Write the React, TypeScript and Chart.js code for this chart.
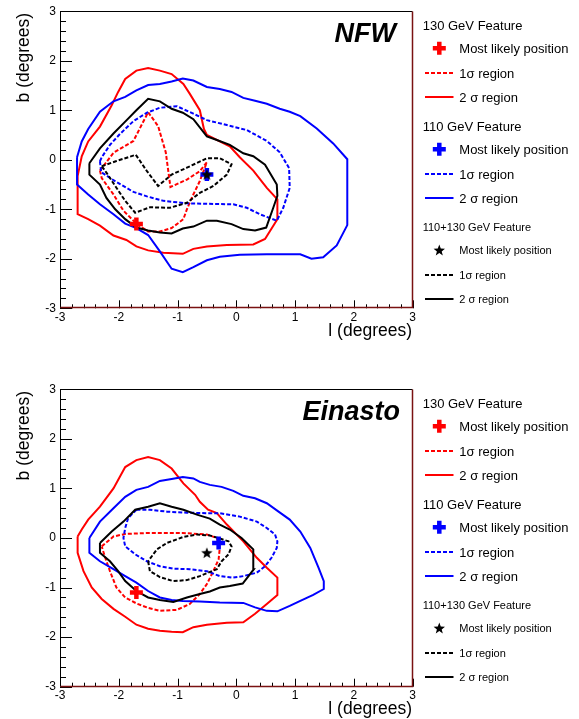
import React, { useEffect, useRef } from "react";
import { Chart, registerables } from "chart.js";
Chart.register(...registerables);

type Pt = [number, number];

// ---------- axis / legend text ----------
const axisMin = -3;
const axisMax = 3;
const majorStep = 1;
const minorStep = 0.2;
const xTitle = "l (degrees)";
const yTitle = "b (degrees)";
const legendHeaders = ["130 GeV Feature", "110 GeV Feature", "110+130 GeV Feature"];
const legendRows = ["Most likely position", "1σ region", "2 σ region"];
const featureColors = ["#ff0000", "#0000ff", "#000000"];

// ---------- NFW panel ----------
const nfwRedBest: Pt = [-1.7, -1.3];
const nfwBlueBest: Pt = [-0.5, -0.3];
const nfwBothBest: Pt = [-0.5, -0.3];

const nfwRed1: Pt[] = [
  [-2.32, -0.22], [-2.09, 0.14], [-1.75, 0.38], [-1.5, 0.96], [-1.33, 0.68], [-1.2, 0.15],
  [-1.12, -0.55], [-0.84, -0.4], [-0.62, -0.23], [-0.5, -0.05], [-0.62, -0.43], [-0.75, -0.75],
  [-0.84, -1.0], [-0.9, -1.2], [-1.1, -1.38], [-1.3, -1.45], [-1.5, -1.45], [-1.69, -1.3],
  [-1.92, -1.03], [-2.09, -0.7], [-2.29, -0.37],
];
const nfwRed2: Pt[] = [
  [-2.7, -0.33], [-2.7, -1.1], [-2.52, -1.2], [-2.32, -1.33], [-2.09, -1.53], [-1.87, -1.62],
  [-1.7, -1.75], [-1.5, -1.83], [-1.24, -1.88], [-0.91, -1.9], [-0.73, -1.8], [-0.5, -1.75],
  [-0.16, -1.72], [0.29, -1.71], [0.49, -1.6], [0.7, -1.2], [0.7, -0.8], [0.52, -0.57],
  [0.29, -0.22], [0.06, 0.05], [-0.11, 0.27], [-0.5, 0.5], [-0.55, 0.62], [-0.62, 1.0],
  [-0.79, 1.33], [-0.9, 1.53], [-1.1, 1.73], [-1.3, 1.8], [-1.5, 1.85], [-1.7, 1.8],
  [-1.89, 1.63], [-2.01, 1.37], [-2.12, 1.1], [-2.32, 0.67], [-2.52, 0.37], [-2.63, 0.07],
];
const nfwBlue1: Pt[] = [
  [-2.32, -0.03], [-2.3, -0.25], [-2.04, -0.45], [-1.75, -0.65], [-1.52, -0.74], [-1.24, -0.83],
  [-0.84, -0.88], [-0.5, -0.89], [-0.05, -0.9], [0.18, -0.97], [0.4, -1.1], [0.69, -1.23],
  [0.8, -0.97], [0.91, -0.57], [0.9, -0.17], [0.74, 0.15], [0.52, 0.38], [0.18, 0.6],
  [-0.16, 0.7], [-0.5, 0.8], [-0.73, 0.93], [-1.01, 1.08], [-1.3, 1.05], [-1.52, 0.95],
  [-1.75, 0.78], [-1.98, 0.52], [-2.15, 0.3], [-2.29, 0.05],
];
const nfwBlue2: Pt[] = [
  [-2.71, 0.05], [-2.71, -0.5], [-2.52, -0.7], [-2.32, -0.9], [-2.09, -1.1], [-1.89, -1.29],
  [-1.7, -1.38], [-1.5, -1.52], [-1.3, -1.85], [-1.1, -2.2], [-0.91, -2.27], [-0.73, -2.17],
  [-0.5, -2.03], [-0.28, -1.96], [0.06, -1.92], [0.52, -1.91], [1.09, -1.91], [1.28, -2.0],
  [1.48, -1.97], [1.71, -1.73], [1.89, -1.32], [1.89, 0.01], [1.65, 0.33], [1.37, 0.63],
  [1.09, 0.88], [0.91, 0.97], [0.74, 1.03], [0.52, 1.13], [0.32, 1.19], [0.12, 1.25],
  [-0.08, 1.37], [-0.28, 1.43], [-0.5, 1.47], [-0.73, 1.6], [-0.91, 1.64], [-1.1, 1.58],
  [-1.3, 1.53], [-1.5, 1.51], [-1.7, 1.4], [-1.89, 1.27], [-2.09, 1.18], [-2.32, 0.97],
  [-2.52, 0.62], [-2.63, 0.37],
];
const nfwBlack1: Pt[] = [
  [-2.29, -0.13], [-2.05, -0.03], [-1.71, 0.1], [-1.52, -0.23], [-1.33, -0.53], [-1.1, -0.3],
  [-0.84, -0.16], [-0.5, 0.03], [-0.28, 0.03], [-0.08, -0.09], [-0.16, -0.3], [-0.39, -0.53],
  [-0.62, -0.67], [-0.84, -0.87], [-1.13, -0.97], [-1.47, -0.96], [-1.72, -1.07], [-1.89, -0.83],
  [-2.06, -0.53], [-2.21, -0.26],
];
const nfwBlack2: Pt[] = [
  [-2.5, -0.07], [-2.5, -0.3], [-2.32, -0.5], [-2.21, -0.77], [-2.06, -1.0], [-1.89, -1.2],
  [-1.7, -1.37], [-1.5, -1.43], [-1.3, -1.47], [-1.1, -1.49], [-0.91, -1.39], [-0.73, -1.35],
  [-0.5, -1.23], [-0.33, -1.23], [-0.08, -1.3], [0.12, -1.4], [0.32, -1.43], [0.51, -1.37],
  [0.63, -0.97], [0.7, -0.73], [0.69, -0.5], [0.49, -0.1], [0.29, 0.07], [0.12, 0.13],
  [-0.11, 0.3], [-0.33, 0.4], [-0.5, 0.47], [-0.73, 0.82], [-0.91, 0.95], [-1.1, 1.03],
  [-1.3, 1.18], [-1.5, 1.23], [-1.7, 1.0], [-1.89, 0.77], [-2.09, 0.53], [-2.32, 0.23],
];

// ---------- Einasto panel ----------
const einRedBest: Pt = [-1.7, -1.1];
const einBlueBest: Pt = [-0.3, -0.1];
const einBothBest: Pt = [-0.5, -0.3];

const einRed1: Pt[] = [
  [-2.29, -0.17], [-2.09, 0.03], [-1.89, 0.08], [-1.5, 0.1], [-0.91, 0.1], [-0.5, 0.07],
  [-0.33, 0.0], [-0.28, -0.2], [-0.3, -0.43], [-0.39, -0.67], [-0.5, -0.93], [-0.62, -1.13],
  [-0.79, -1.33], [-1.01, -1.45], [-1.3, -1.47], [-1.5, -1.41], [-1.7, -1.32], [-1.89, -1.2],
  [-2.04, -1.0], [-2.15, -0.67], [-2.23, -0.4],
];
const einRed2: Pt[] = [
  [-2.7, 0.03], [-2.7, -0.3], [-2.6, -0.67], [-2.46, -1.0], [-2.29, -1.23], [-2.09, -1.43],
  [-1.89, -1.59], [-1.7, -1.75], [-1.5, -1.83], [-1.3, -1.87], [-1.1, -1.89], [-0.91, -1.9],
  [-0.73, -1.8], [-0.5, -1.75], [-0.16, -1.71], [0.12, -1.7], [0.32, -1.53], [0.52, -1.33],
  [0.7, -1.15], [0.7, -0.8], [0.52, -0.6], [0.35, -0.4], [0.12, -0.07], [-0.16, 0.27],
  [-0.33, 0.5], [-0.48, 0.57], [-0.62, 0.73], [-0.7, 0.87], [-0.9, 1.1], [-1.1, 1.4],
  [-1.3, 1.57], [-1.5, 1.63], [-1.7, 1.57], [-1.89, 1.43], [-2.09, 1.0], [-2.32, 0.63],
  [-2.52, 0.37], [-2.63, 0.17],
];
const einBlue1: Pt[] = [
  [-1.7, 0.57], [-1.47, 0.57], [-1.18, 0.53], [-0.84, 0.51], [-0.5, 0.5], [-0.28, 0.5],
  [0.06, 0.43], [0.35, 0.33], [0.52, 0.2], [0.66, 0.07], [0.7, -0.07], [0.69, -0.2],
  [0.6, -0.4], [0.49, -0.57], [0.35, -0.7], [0.12, -0.77], [-0.08, -0.8], [-0.28, -0.77],
  [-0.5, -0.67], [-0.79, -0.63], [-1.07, -0.62], [-1.3, -0.57], [-1.52, -0.47], [-1.72, -0.33],
  [-1.89, -0.17], [-1.92, 0.0], [-1.89, 0.2], [-1.84, 0.4],
];
const einBlue2: Pt[] = [
  [-2.5, 0.0], [-2.5, -0.3], [-2.32, -0.47], [-2.09, -0.63], [-1.89, -0.77], [-1.7, -0.9],
  [-1.5, -1.07], [-1.3, -1.2], [-1.1, -1.25], [-0.91, -1.27], [-0.62, -1.28], [-0.28, -1.3],
  [0.12, -1.31], [0.32, -1.4], [0.52, -1.47], [0.7, -1.48], [0.91, -1.37], [1.09, -1.27],
  [1.31, -1.15], [1.49, -1.03], [1.49, -0.87], [1.4, -0.6], [1.26, -0.2], [1.09, 0.13],
  [0.91, 0.37], [0.72, 0.53], [0.52, 0.7], [0.32, 0.8], [0.12, 0.85], [-0.05, 0.95],
  [-0.25, 1.03], [-0.45, 1.07], [-0.62, 1.13], [-0.73, 1.2], [-0.91, 1.23], [-1.1, 1.19],
  [-1.3, 1.15], [-1.5, 1.03], [-1.7, 0.97], [-1.89, 0.83], [-2.09, 0.6], [-2.32, 0.33],
];
const einBlack1: Pt[] = [
  [-1.5, -0.47], [-1.47, -0.67], [-1.3, -0.79], [-1.07, -0.87], [-0.84, -0.85], [-0.62, -0.77],
  [-0.48, -0.7], [-0.33, -0.63], [-0.25, -0.47], [-0.13, -0.33], [-0.08, -0.17], [-0.13, -0.07],
  [-0.28, -0.01], [-0.45, 0.05], [-0.67, 0.07], [-0.9, 0.02], [-1.18, -0.1], [-1.35, -0.23],
];
const einBlack2: Pt[] = [
  [-2.32, -0.1], [-2.32, -0.3], [-2.15, -0.47], [-2.01, -0.67], [-1.89, -0.87], [-1.7, -1.07],
  [-1.5, -1.2], [-1.3, -1.25], [-1.07, -1.29], [-0.84, -1.2], [-0.62, -1.13], [-0.45, -1.08],
  [-0.28, -1.0], [-0.11, -0.97], [0.11, -0.92], [0.3, -0.63], [0.29, -0.23], [0.09, 0.0],
  [-0.11, 0.17], [-0.28, 0.27], [-0.45, 0.39], [-0.67, 0.47], [-0.9, 0.57], [-1.1, 0.63],
  [-1.3, 0.7], [-1.5, 0.63], [-1.72, 0.57], [-1.92, 0.33], [-2.12, 0.13],
];

// ---------- helpers ----------
const FONT = "'Liberation Sans', Arial, Helvetica, sans-serif";
const DASH = [4, 2];
const LINE_W = 2;

function drawStarPath(ctx: CanvasRenderingContext2D, cx: number, cy: number, R: number) {
  const r = R * 0.42;
  ctx.beginPath();
  for (let i = 0; i < 10; i++) {
    const a = -Math.PI / 2 + (i * Math.PI) / 5;
    const rad = i % 2 === 0 ? R : r;
    const x = cx + rad * Math.cos(a);
    const y = cy + rad * Math.sin(a);
    if (i === 0) ctx.moveTo(x, y);
    else ctx.lineTo(x, y);
  }
  ctx.closePath();
}

function makeStarImage(): HTMLCanvasElement {
  const c = document.createElement("canvas");
  c.width = 14;
  c.height = 14;
  const ctx = c.getContext("2d")!;
  drawStarPath(ctx, 7, 7.4, 6);
  ctx.fillStyle = "#000";
  ctx.fill();
  return c;
}

function drawCross(ctx: CanvasRenderingContext2D, x: number, y: number, color: string) {
  ctx.save();
  ctx.strokeStyle = color;
  ctx.lineWidth = 4.5;
  ctx.beginPath();
  ctx.moveTo(x - 6.5, y);
  ctx.lineTo(x + 6.5, y);
  ctx.moveTo(x, y - 6.5);
  ctx.lineTo(x, y + 6.5);
  ctx.stroke();
  ctx.restore();
}

function closed(pts: Pt[]) {
  const d = pts.map(([x, y]) => ({ x, y }));
  d.push({ x: pts[0][0], y: pts[0][1] });
  return d;
}

type PanelDef = {
  label: string;
  labelRight: number;
  top: number;
  padTop: number;
  best: Pt[]; // red, blue, combined
  one: Pt[][]; // red, blue, black 1 sigma
  two: Pt[][]; // red, blue, black 2 sigma
};

const panels: PanelDef[] = [
  {
    label: "NFW",
    labelRight: 396,
    top: 0,
    padTop: 8.3,
    best: [nfwRedBest, nfwBlueBest, nfwBothBest],
    one: [nfwRed1, nfwBlue1, nfwBlack1],
    two: [nfwRed2, nfwBlue2, nfwBlack2],
  },
  {
    label: "Einasto",
    labelRight: 400,
    top: 378,
    padTop: 8.7,
    best: [einRedBest, einBlueBest, einBothBest],
    one: [einRed1, einBlue1, einBlack1],
    two: [einRed2, einBlue2, einBlack2],
  },
];

const CANVAS_W = 579;
const CANVAS_H = 341;

function Panel({ def }: { def: PanelDef }) {
  const ref = useRef<HTMLCanvasElement>(null);
  useEffect(() => {
    if (!ref.current) return;
    const star = makeStarImage();
    const datasets: any[] = [];
    // markers (drawn on top: low order)
    datasets.push({
      data: [{ x: def.best[2][0], y: def.best[2][1] }],
      showLine: false,
      pointStyle: star,
      pointRadius: 7,
      order: 0,
    });
    [1, 0].forEach((i) => {
      datasets.push({
        data: [{ x: def.best[i][0], y: def.best[i][1] }],
        showLine: false,
        pointStyle: "cross",
        pointRadius: 6.5,
        pointBorderWidth: 4.5,
        pointBorderColor: featureColors[i],
        borderColor: featureColors[i],
        backgroundColor: featureColors[i],
        order: 0,
      });
    });
    [2, 1, 0].forEach((i) => {
      datasets.push({
        data: closed(def.two[i]),
        showLine: true,
        borderColor: featureColors[i],
        borderWidth: LINE_W,
        pointRadius: 0,
        fill: false,
        tension: 0,
        order: 1,
      });
      datasets.push({
        data: closed(def.one[i]),
        showLine: true,
        borderColor: featureColors[i],
        borderWidth: LINE_W,
        borderDash: DASH,
        pointRadius: 0,
        fill: false,
        tension: 0,
        order: 1,
      });
    });

    const framePlugin = {
      id: "rootFrame",
      afterDatasetsDraw(chart: any) {
        const { ctx, chartArea: ca, scales } = chart;
        const xs = scales.x;
        const ys = scales.y;
        ctx.save();
        // ticks
        ctx.strokeStyle = "#000";
        ctx.lineWidth = 1;
        ctx.beginPath();
        const n = Math.round((axisMax - axisMin) / minorStep);
        for (let k = 0; k <= n; k++) {
          const v = axisMin + k * minorStep;
          const isMajor = Math.abs(v / majorStep - Math.round(v / majorStep)) < 1e-6;
          const py = Math.round(ys.getPixelForValue(v)) + 0.5;
          ctx.moveTo(ca.left, py);
          ctx.lineTo(ca.left + (isMajor ? 12 : 6), py);
          const px = Math.round(xs.getPixelForValue(v)) + 0.5;
          ctx.moveTo(px, ca.bottom);
          ctx.lineTo(px, ca.bottom - (isMajor ? 8 : 4));
        }
        ctx.stroke();
        // frame
        const L = Math.round(ca.left) + 0.5;
        const T = Math.round(ca.top) + 0.5;
        const R = Math.round(ca.right) - 0.5;
        const B = Math.round(ca.bottom) - 0.5;
        ctx.strokeStyle = "#000";
        ctx.beginPath();
        ctx.moveTo(L, B);
        ctx.lineTo(L, T);
        ctx.lineTo(R, T);
        ctx.stroke();
        ctx.strokeStyle = "#7a1212";
        ctx.lineWidth = 1.5;
        ctx.beginPath();
        ctx.moveTo(R, T);
        ctx.lineTo(R, B);
        ctx.lineTo(L, B);
        ctx.stroke();
        ctx.restore();
      },
      afterDraw(chart: any) {
        const { ctx, chartArea: ca } = chart;
        ctx.save();
        ctx.fillStyle = "#000";
        // axis titles
        ctx.font = `17.5px ${FONT}`;
        ctx.textAlign = "right";
        ctx.textBaseline = "alphabetic";
        ctx.fillText(xTitle, ca.right - 0.5, ca.bottom + 27.5);
        ctx.save();
        ctx.translate(29, ca.top + 1.7);
        ctx.rotate(-Math.PI / 2);
        ctx.fillText(yTitle, 0, 0);
        ctx.restore();
        // panel label
        ctx.font = `italic bold 27px ${FONT}`;
        ctx.textAlign = "right";
        ctx.fillText(def.label, def.labelRight, ca.top + 31.2);
        // legend
        const groupY = [13.7, 114.7, 215.7];
        const rowOff = [23.3, 48.5, 72.3];
        const hx = 422.7;
        const tx = 459.3;
        for (let g = 0; g < 3; g++) {
          const fs = g === 2 ? 11 : 13;
          const color = featureColors[g];
          ctx.fillStyle = "#000";
          ctx.textAlign = "left";
          ctx.textBaseline = "alphabetic";
          ctx.font = `${fs}px ${FONT}`;
          const gy = ca.top + groupY[g];
          ctx.fillText(legendHeaders[g], hx, gy + fs * 0.36);
          for (let r = 0; r < 3; r++) {
            const ry = gy + rowOff[r];
            ctx.fillStyle = "#000";
            ctx.fillText(legendRows[r], tx, ry + fs * 0.36);
            if (r === 0) {
              if (g === 2) {
                drawStarPath(ctx, 439.3, ry + 0.4, 6);
                ctx.fillStyle = "#000";
                ctx.fill();
              } else {
                drawCross(ctx, 439.3, ry, color);
              }
            } else {
              ctx.save();
              ctx.strokeStyle = color;
              ctx.lineWidth = LINE_W;
              ctx.setLineDash(r === 1 ? DASH : []);
              ctx.beginPath();
              ctx.moveTo(425, Math.round(ry));
              ctx.lineTo(453.5, Math.round(ry));
              ctx.stroke();
              ctx.restore();
            }
          }
        }
        ctx.restore();
      },
    };

    const tickFont = { family: FONT, size: 12 };
    const chart = new Chart(ref.current, {
      type: "scatter",
      data: { datasets },
      options: {
        responsive: false,
        animation: false,
        devicePixelRatio: 1,
        events: [],
        layout: { padding: { left: 0, right: CANVAS_W - 412.5, top: def.padTop, bottom: 0 } },
        plugins: { legend: { display: false }, tooltip: { enabled: false } },
        scales: {
          x: {
            type: "linear",
            min: axisMin,
            max: axisMax,
            ticks: {
              stepSize: majorStep,
              color: "#000",
              font: tickFont,
              padding: 2,
              maxRotation: 0,
              autoSkip: false,
            },
            grid: { display: false, drawTicks: false },
            border: { display: false },
            afterFit: (s: any) => {
              s.height = CANVAS_H - def.padTop - 300;
            },
          },
          y: {
            type: "linear",
            min: axisMin,
            max: axisMax,
            ticks: {
              stepSize: majorStep,
              color: "#000",
              font: tickFont,
              padding: 4,
              autoSkip: false,
            },
            grid: { display: false, drawTicks: false },
            border: { display: false },
            afterFit: (s: any) => {
              s.width = 60;
            },
          },
        },
      } as any,
      plugins: [framePlugin],
    });
    return () => chart.destroy();
  }, [def]);
  return (
    <canvas
      ref={ref}
      width={CANVAS_W}
      height={CANVAS_H}
      style={{ position: "absolute", left: 0, top: def.top, width: CANVAS_W, height: CANVAS_H }}
    />
  );
}

export default function App() {
  return (
    <div
      style={{
        position: "absolute",
        left: 0,
        top: 0,
        width: CANVAS_W,
        height: 719,
        background: "#fff",
        overflow: "hidden",
      }}
    >
      {panels.map((p) => (
        <Panel key={p.label} def={p} />
      ))}
    </div>
  );
}
